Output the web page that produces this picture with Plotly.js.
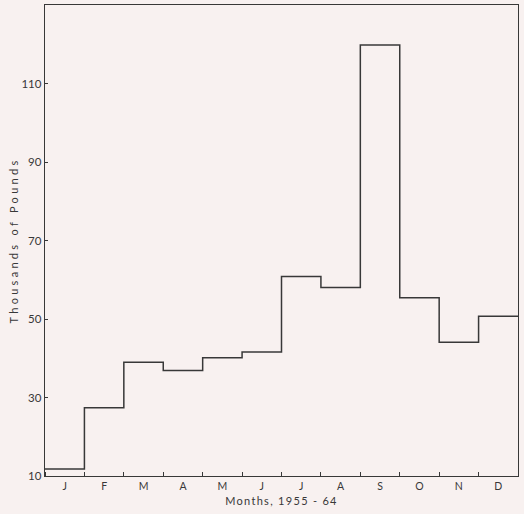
<!DOCTYPE html>
<html>
<head>
<meta charset="utf-8">
<script src="https://cdn.plot.ly/plotly-3.0.1.min.js"></script>
<style>
  html, body { margin: 0; padding: 0; background: #f8f1f0; }
  #chart { width: 524px; height: 514px; }
  .xtitle { letter-spacing: 1.3px; }
  .ytitle { letter-spacing: 3.3px; }
</style>
</head>
<body>
<div id="chart"></div>
<script>
// Months (1955-64) and average landings in thousands of pounds
const months = ["J", "F", "M", "A", "M", "J", "J", "A", "S", "O", "N", "D"];
const pounds = [11.8, 27.4, 39.0, 36.9, 40.1, 41.6, 60.8, 58.0, 119.8, 55.4, 44.1, 50.7];
const yTicks = [10, 30, 50, 70, 90, 110];

// Step outline: each month occupies [i, i+1] on the x axis
const xEdges = months.map((m, i) => i).concat([months.length]);
const yStep = pounds.concat([pounds[pounds.length - 1]]);
const centers = months.map((m, i) => i + 0.5);

const ink = "#383838";
const font = { family: "Lato, 'Open Sans', sans-serif", size: 11, color: ink };

const trace = {
  x: xEdges,
  y: yStep,
  type: "scatter",
  mode: "lines",
  line: { shape: "hv", color: ink, width: 1.5 },
  hoverinfo: "skip"
};

const layout = {
  width: 524,
  height: 514,
  margin: { l: 45, r: 6, t: 5, b: 38 },
  paper_bgcolor: "#f8f1f0",
  plot_bgcolor: "#f8f1f0",
  showlegend: false,
  font: font,
  xaxis: {
    range: [0, months.length],
    tickmode: "array",
    tickvals: centers,
    ticktext: months,
    ticks: "",
    showgrid: false,
    zeroline: false,
    showline: true,
    mirror: true,
    linecolor: ink,
    linewidth: 1.3,
    tickfont: { family: font.family, size: 10.5, color: ink },
    ticklabelstandoff: 0,
    minor: { tickmode: "linear", tick0: 0, dtick: 1, ticks: "inside", ticklen: 4, tickcolor: ink, tickwidth: 1, showgrid: false },
    title: { text: "Months, 1955 - 64", font: { family: font.family, size: 11, color: ink }, standoff: 6 },
    automargin: false,
    fixedrange: true
  },
  yaxis: {
    range: [10, 130],
    tickmode: "array",
    tickvals: yTicks,
    ticktext: yTicks.map(String),
    ticks: "inside",
    ticklen: 3,
    tickcolor: ink,
    showgrid: false,
    zeroline: false,
    showline: true,
    mirror: true,
    linecolor: ink,
    linewidth: 1.3,
    tickfont: { family: font.family, size: 11.5, color: ink },
    title: { text: "Thousands of Pounds", font: { family: font.family, size: 11, color: ink }, standoff: 0 },
    automargin: false,
    fixedrange: true
  }
};

Plotly.newPlot("chart", [trace], layout, { staticPlot: true, displayModeBar: false });
</script>
</body>
</html>
